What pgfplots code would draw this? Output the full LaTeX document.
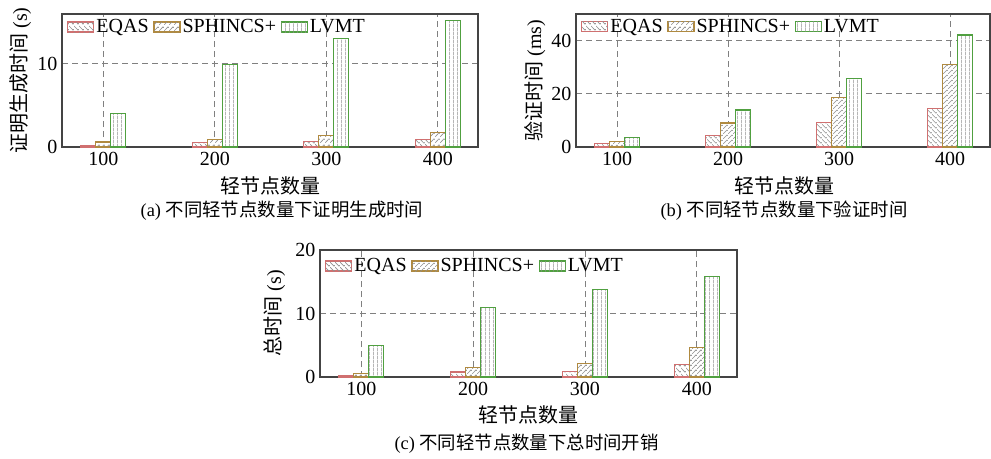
\documentclass[border=0pt]{standalone}
\usepackage{pgfplots}
\pgfplotsset{compat=1.18}
\usepackage{fontspec}
\setmainfont{Liberation Serif}
\newfontfamily\cjk{Noto Sans CJK SC}
\usetikzlibrary{patterns}
\definecolor{eqasc}{HTML}{D07070}
\definecolor{sphc}{HTML}{B08A40}
\definecolor{lvmtc}{HTML}{50A040}
\definecolor{hatch}{HTML}{909090}
\definecolor{axc}{HTML}{444444}

\pgfdeclarepatterninherentlycolored{hnwl}{\pgfpointorigin}{\pgfqpoint{4pt}{4pt}}{\pgfqpoint{4pt}{4pt}}{%
  \pgfsetcolor{hatch}\pgfsetlinewidth{0.5pt}%
  \pgfpathmoveto{\pgfqpoint{-0.1pt}{4.1pt}}\pgfpathlineto{\pgfqpoint{4.1pt}{-0.1pt}}\pgfusepath{stroke}}
\pgfdeclarepatterninherentlycolored{hnel}{\pgfpointorigin}{\pgfqpoint{4pt}{4pt}}{\pgfqpoint{4pt}{4pt}}{%
  \pgfsetcolor{hatch}\pgfsetlinewidth{0.5pt}%
  \pgfpathmoveto{\pgfqpoint{-0.1pt}{-0.1pt}}\pgfpathlineto{\pgfqpoint{4.1pt}{4.1pt}}\pgfusepath{stroke}}
\pgfdeclarepatterninherentlycolored{hvl}{\pgfpointorigin}{\pgfqpoint{3pt}{3pt}}{\pgfqpoint{3pt}{3pt}}{%
  \pgfsetcolor{hatch}\pgfsetlinewidth{0.5pt}%
  \pgfpathmoveto{\pgfqpoint{1.5pt}{-0.1pt}}\pgfpathlineto{\pgfqpoint{1.5pt}{3.1pt}}\pgfusepath{stroke}}

\pgfplotsset{
  mypat/.style n args={3}{draw=none, fill=white, postaction={pattern=#1},
    bar shift=#3,
    legend image code/.code={\fill[white] (0pt,-3.75pt) rectangle (19.5pt,3.75pt);
      \path[pattern=#1] (0pt,-3.75pt) rectangle (19.5pt,3.75pt);
      \draw[draw=#2, line width=0.9pt] (0pt,-3.75pt) rectangle (19.5pt,3.75pt);}},
  myout/.style 2 args={draw=#1, line width=0.9pt, fill=none, bar shift=#2, forget plot},
  mybar/.style={
    ybar=0pt, bar width=11.25pt,
    scale only axis, width=312pt,
    xmin=63, xmax=436, ymin=0,
    xtick={100,200,300,400},
    axis line style={axc, line width=1pt},
    major tick length=0pt,
    grid=major,
    major grid style={gray, dash pattern=on 4.5pt off 3pt, line width=0.6pt},
    tick label style={font=\fontsize{15}{15}\selectfont},
    /pgf/number format/assume math mode=true,
    legend columns=3,
    legend style={draw=none, fill=none, anchor=west,
      font=\fontsize{15}{15}\selectfont, inner sep=0pt,
      nodes={inner sep=1.5pt},
      /tikz/every even column/.append style={column sep=2pt}},
  }
}

\pgfplotstableread{
x   e     s     l
100 0.2   0.6   4.05
200 0.5   0.9   9.9
300 0.65  1.4   13.1
400 0.9   1.7   15.2
}\dataA
\pgfplotstableread{
x   e     s     l
100 1.2   2.2   3.7
200 4.2   9.0   13.9
300 9.1   18.5  25.9
400 14.4  30.9  42.1
}\dataB
\pgfplotstableread{
x   e     s     l
100 0.25  0.5   4.9
200 0.8   1.5   10.9
300 0.9   2.1   13.8
400 1.95  4.6   15.85
}\dataC

\begin{document}
\begin{tikzpicture}
\path (0,0) rectangle (743.25pt,-341.25pt);
% (a)
\begin{axis}[mybar, at={(46.5pt,-110.25pt)}, anchor=south west,
  height=99.75pt, ymax=16, ytick={0,10},
  legend style={at={(0.012,0.902)}}]
\addplot[mypat={hnwl}{eqasc}{-11.25pt}] table[x=x,y=e]{\dataA};
\addplot[mypat={hnel}{sphc}{0pt}] table[x=x,y=s]{\dataA};
\addplot[mypat={hvl}{lvmtc}{11.25pt}] table[x=x,y=l]{\dataA};
\addplot[myout={eqasc}{-11.25pt}] table[x=x,y=e]{\dataA};
\addplot[myout={sphc}{0pt}] table[x=x,y=s]{\dataA};
\addplot[myout={lvmtc}{11.25pt}] table[x=x,y=l]{\dataA};
\legend{EQAS,SPHINCS+,LVMT}
\end{axis}
% (b)
\begin{axis}[mybar, at={(432pt,-110.25pt)}, anchor=south west,
  width=310.5pt, height=99.75pt, ymax=50, ytick={0,20,40},
  legend style={at={(0.012,0.905)}}]
\addplot[mypat={hnwl}{eqasc}{-11.25pt}] table[x=x,y=e]{\dataB};
\addplot[mypat={hnel}{sphc}{0pt}] table[x=x,y=s]{\dataB};
\addplot[mypat={hvl}{lvmtc}{11.25pt}] table[x=x,y=l]{\dataB};
\addplot[myout={eqasc}{-11.25pt}] table[x=x,y=e]{\dataB};
\addplot[myout={sphc}{0pt}] table[x=x,y=s]{\dataB};
\addplot[myout={lvmtc}{11.25pt}] table[x=x,y=l]{\dataB};
\legend{EQAS,SPHINCS+,LVMT}
\end{axis}
% (c)
\begin{axis}[mybar, at={(240pt,-282.75pt)}, anchor=south west,
  width=312.75pt, height=95.25pt, ymax=20, ytick={0,10,20},
  legend style={at={(0.012,0.874)}}]
\addplot[mypat={hnwl}{eqasc}{-11.25pt}] table[x=x,y=e]{\dataC};
\addplot[mypat={hnel}{sphc}{0pt}] table[x=x,y=s]{\dataC};
\addplot[mypat={hvl}{lvmtc}{11.25pt}] table[x=x,y=l]{\dataC};
\addplot[myout={eqasc}{-11.25pt}] table[x=x,y=e]{\dataC};
\addplot[myout={sphc}{0pt}] table[x=x,y=s]{\dataC};
\addplot[myout={lvmtc}{11.25pt}] table[x=x,y=l]{\dataC};
\legend{EQAS,SPHINCS+,LVMT}
\end{axis}
% labels
\node[rotate=90, font=\fontsize{15}{15}\selectfont] at (15.5pt,-60.4pt) {{\cjk 证明生成时间} (s)};
\node[rotate=90, font=\fontsize{15}{15}\selectfont] at (401pt,-60.4pt) {{\cjk 验证时间} (ms)};
\node[rotate=90, font=\fontsize{15}{15}\selectfont] at (206pt,-235pt) {{\cjk 总时间} (s)};
\node[font=\fontsize{15}{15}\selectfont\cjk] at (202.5pt,-139.5pt) {轻节点数量};
\node[font=\fontsize{15}{15}\selectfont\cjk] at (588pt,-139.5pt) {轻节点数量};
\node[font=\fontsize{15}{15}\selectfont\cjk] at (396pt,-311.25pt) {轻节点数量};
\node[font=\fontsize{13.8}{14}\selectfont] at (211.5pt,-158.25pt) {(a) {\cjk 不同轻节点数量下证明生成时间}};
\node[font=\fontsize{13.8}{14}\selectfont] at (588pt,-158.25pt) {(b) {\cjk 不同轻节点数量下验证时间}};
\node[font=\fontsize{13.8}{14}\selectfont] at (395pt,-333pt) {(c) {\cjk 不同轻节点数量下总时间开销}};
\end{tikzpicture}
\end{document}
